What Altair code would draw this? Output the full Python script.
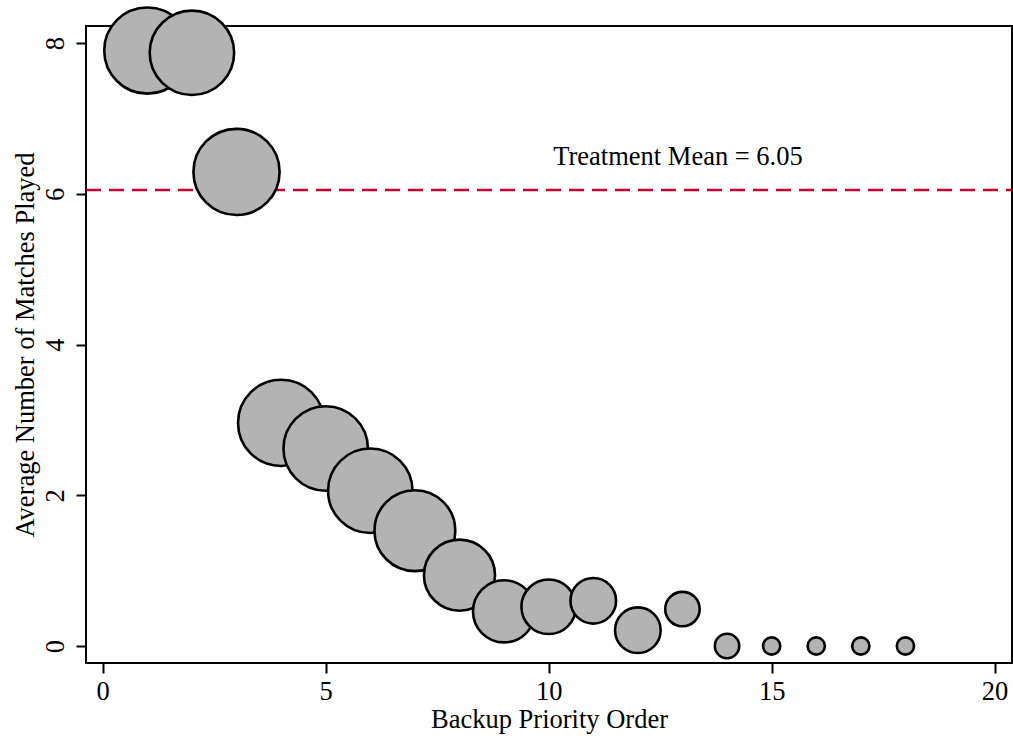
import altair as alt
import pandas as pd

# Backup priority order and the average number of matches played at each order
priority = list(range(1, 19))
avg_matches = [7.90, 7.87, 6.29, 2.96, 2.62, 2.06, 1.53, 0.94, 0.46,
               0.52, 0.60, 0.21, 0.49, 0.0, 0.0, 0.0, 0.0, 0.0]
# Number of observations at each order (marker area is proportional)
n_obs = [25, 24, 25, 25, 24, 24, 22, 17, 13, 10, 7, 7, 4, 2, 1, 1, 1, 1]

treatment_mean = 6.05
x_ticks = [0, 5, 10, 15, 20]
y_ticks = [0, 2, 4, 6, 8]

df = pd.DataFrame({"priority": priority, "avg": avg_matches, "n": n_obs})
mean_df = pd.DataFrame({"mean": [treatment_mean]})
label_df = pd.DataFrame({"x": [12.9], "y": [6.38],
                         "label": [f"Treatment Mean = {treatment_mean:.2f}"]})

FONT = "Liberation Serif"
FS = 26.5
W, H = 926, 637

x_scale = alt.Scale(domain=[-0.375, 20.39], nice=False, zero=False)
y_scale = alt.Scale(domain=[-0.2255, 8.226], nice=False, zero=False)

x_axis = alt.Axis(values=x_ticks, format="d", title="Backup Priority Order",
                  grid=False, domain=False, tickSize=10, tickWidth=2,
                  tickColor="black", labelFont=FONT, labelFontSize=FS,
                  labelColor="black", labelBaseline="alphabetic",
                  labelPadding=26, titleFont=FONT, titleFontSize=FS,
                  titleFontWeight="normal", titleColor="black",
                  titleBaseline="alphabetic", titleY=64, titleX=W / 2,
                  titleAlign="center")
y_axis = alt.Axis(values=y_ticks, format="d",
                  title="Average Number of Matches Played",
                  grid=False, domain=False, tickSize=10, tickWidth=2,
                  tickColor="black", labelFont=FONT, labelFontSize=FS,
                  labelColor="black", labelAngle=270, labelAlign="center",
                  labelBaseline="alphabetic", labelPadding=13,
                  titleFont=FONT, titleFontSize=FS, titleFontWeight="normal",
                  titleColor="black", titleAngle=270, titleBaseline="alphabetic",
                  titleX=-53, titleY=H / 2, titleAlign="center")

mean_line = alt.Chart(mean_df).mark_rule(
    color="#C80032", strokeWidth=2.6, strokeDash=[15, 8]
).encode(
    y=alt.Y("mean:Q", scale=y_scale, axis=y_axis),
    x=alt.value(0),
    x2=alt.value(W),
)

points = alt.Chart(df).mark_point(
    shape="circle", filled=True, fill="#B3B3B3", stroke="black",
    strokeWidth=2.6, opacity=1, fillOpacity=1, strokeOpacity=1
).encode(
    x=alt.X("priority:Q", scale=x_scale, axis=x_axis),
    y=alt.Y("avg:Q", scale=y_scale, axis=y_axis),
    size=alt.Size("n:Q", scale=alt.Scale(type="linear", domain=[0, 25],
                                         range=[0, 7425]), legend=None),
    order=alt.Order("priority:Q"),
)

label = alt.Chart(label_df).mark_text(
    font=FONT, fontSize=FS, color="black", align="center",
    baseline="alphabetic"
).encode(
    x=alt.X("x:Q", scale=x_scale),
    y=alt.Y("y:Q", scale=y_scale),
    text="label:N",
)

chart = alt.layer(mean_line, points, label).properties(
    width=W, height=H,
    autosize=alt.AutoSizeParams(type="none"),
    padding={"left": 86, "top": 26, "right": 1, "bottom": 75},
    background="white",
).configure_view(
    stroke="black", strokeWidth=2
)

chart.save("out.html", embed_options={"renderer": "svg", "actions": False})
